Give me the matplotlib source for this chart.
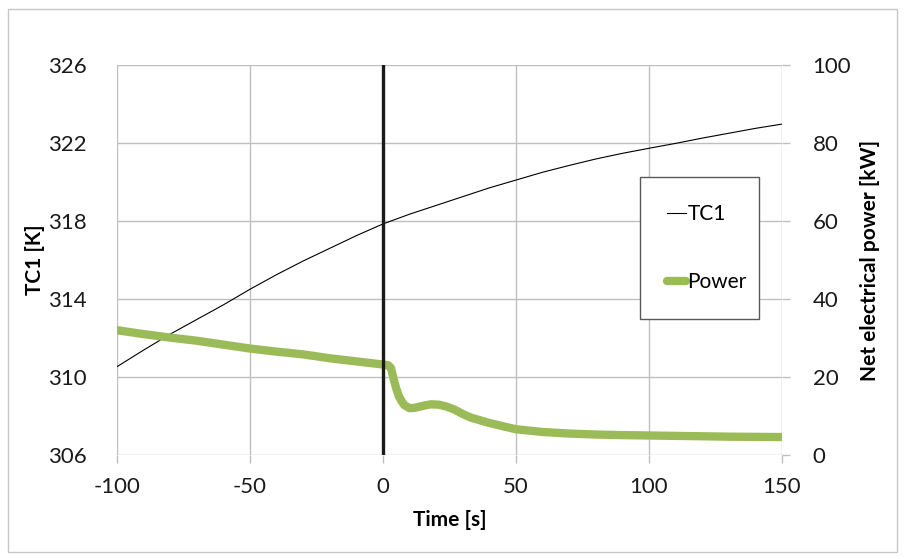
import matplotlib.pyplot as plt
from matplotlib.patches import Rectangle

plt.rcParams['font.family'] = ['Lato', 'DejaVu Sans']
plt.rcParams['axes.unicode_minus'] = False

# TC1 temperature [K]
t_tc1 = [-100, -90, -80, -70, -60, -50, -40, -30, -20, -10, 0, 10, 20, 30, 40,
         50, 60, 70, 80, 90, 100, 110, 120, 130, 140, 150]
tc1 = [310.53, 311.38, 312.2, 312.95, 313.7, 314.5, 315.25, 315.95, 316.6,
       317.25, 317.85, 318.35, 318.8, 319.25, 319.7, 320.1, 320.5, 320.85,
       321.18, 321.47, 321.73, 321.98, 322.25, 322.5, 322.75, 322.97]

# net electrical power [kW]
t_pow = [-100, -90, -80, -70, -60, -50, -40, -30, -20, -10, 0, 2, 3, 4, 5, 6,
         7, 8, 10, 12, 15, 18, 21, 24, 27, 30, 33, 36, 40, 45, 50, 60, 70, 80,
         90, 100, 110, 120, 130, 140, 150]
power = [32.0, 31.0, 30.1, 29.3, 28.3, 27.3, 26.5, 25.8, 24.8, 24.0, 23.2,
         23.0, 22.3, 19.5, 17.0, 15.0, 13.8, 12.8, 12.0, 12.1, 12.6, 13.0,
         12.9, 12.4, 11.6, 10.5, 9.6, 9.0, 8.2, 7.4, 6.6, 5.9, 5.5, 5.25,
         5.1, 5.0, 4.9, 4.8, 4.7, 4.65, 4.6]

event_t = 0  # switching instant

x_ticks = [-100, -50, 0, 50, 100, 150]
tc1_ticks = [306, 310, 314, 318, 322, 326]
pow_ticks = [0, 20, 40, 60, 80, 100]

grid_c = '#BFBFBF'
green = '#9BBB59'

fig = plt.figure(figsize=(9.05, 5.59), dpi=100)
fig.patches.append(Rectangle((8 / 905, 7 / 559), 889 / 905, 543 / 559,
                             transform=fig.transFigure, fill=False,
                             edgecolor='#C8C8C8', linewidth=1))

ax = fig.add_axes([117 / 905, 104 / 559, 665 / 905, 390 / 559])
ax2 = ax.twinx()

ax.plot(t_tc1, tc1, color='black', linewidth=0.8, label='TC1')
ax2.plot(t_pow, power, color=green, linewidth=6, solid_capstyle='round',
         solid_joinstyle='round', label='Power')
ax2.axvline(event_t, color='#1A1A1A', linewidth=2.4, zorder=5)

ax.set_xlim(-100, 150)
ax.set_ylim(306, 326)
ax2.set_ylim(0, 100)
ax.set_xticks(x_ticks)
ax.set_yticks(tc1_ticks)
ax2.set_yticks(pow_ticks)

ax.grid(True, color=grid_c, linewidth=1)
ax.set_axisbelow(True)
for a in (ax, ax2):
    for s in a.spines.values():
        s.set_visible(False)

ax.tick_params(axis='x', direction='out', length=6, width=1, color=grid_c,
               pad=10, labelsize=16, labelcolor='#1a1a1a')
ax.tick_params(axis='y', length=0, pad=22, labelsize=16, labelcolor='#1a1a1a')
ax2.tick_params(axis='y', direction='out', length=6, width=1, color=grid_c,
                pad=16, labelsize=16, labelcolor='#1a1a1a')

ax.set_xlabel('Time [s]', fontsize=15, fontweight='bold', labelpad=9)
ax.set_ylabel('TC1 [K]', fontsize=15, fontweight='bold', labelpad=2)
ax2.set_ylabel('Net electrical power [kW]', fontsize=15, fontweight='bold',
               rotation=90, labelpad=6)

h1, l1 = ax.get_legend_handles_labels()
h2, l2 = ax2.get_legend_handles_labels()
leg = ax2.legend(h1 + h2, l1 + l2, loc='upper left',
                 bbox_to_anchor=(0.786, 0.355, 0.18, 0.358), mode='expand',
                 borderaxespad=0, fontsize=15, handlelength=0.9,
                 handletextpad=0.1, labelspacing=2.3, borderpad=1.3,
                 fancybox=False, framealpha=1)
leg.get_frame().set_edgecolor('#595959')
leg.get_frame().set_linewidth(1)

fig.savefig('out.png', dpi=100)
